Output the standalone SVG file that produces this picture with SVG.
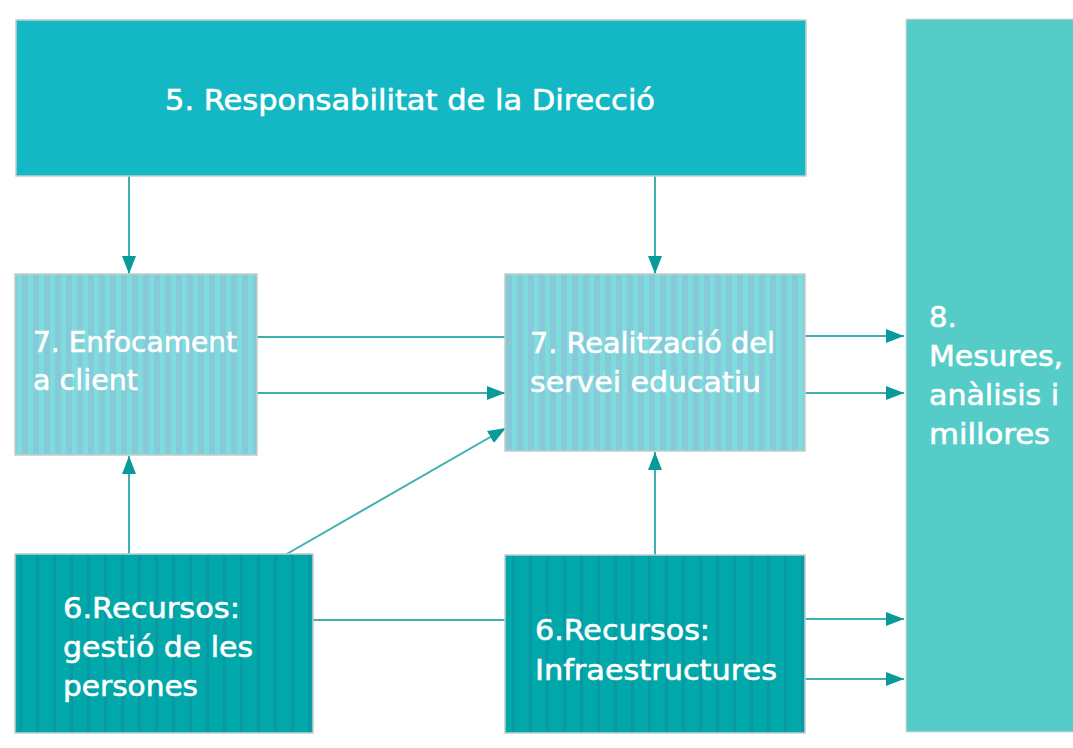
<svg xmlns="http://www.w3.org/2000/svg" width="1073" height="748" viewBox="0 0 1073 748">
<style>
text{font-family:"DejaVu Sans",Verdana,sans-serif;font-size:29px;fill:#ffffff;stroke:#ffffff;stroke-width:0.6}
.box{stroke:#c4cccc;stroke-width:1.5}
.ln{stroke:#3fb0b0;stroke-width:2;fill:none}
.ar{stroke:#3fb0b0;stroke-width:2;fill:none;marker-end:url(#ah)}
</style>
<defs>
<pattern id="lt" patternUnits="userSpaceOnUse" width="11" height="10" x="15" y="0">
<rect width="11" height="10" fill="#86c9d9"/>
<rect x="2" width="5" height="10" fill="#7fdcdc"/>
</pattern>
<pattern id="dk" patternUnits="userSpaceOnUse" width="17" height="10" x="15" y="0">
<rect width="17" height="10" fill="#00a8aa"/>
<rect x="4" width="3" height="10" fill="#0a97a6"/>
</pattern>
<marker id="ah" markerWidth="18" markerHeight="14" refX="18" refY="7" orient="auto" markerUnits="userSpaceOnUse">
<path d="M0,0 L18,7 L0,14 Z" fill="#0a9a9c"/>
</marker>
</defs>
<rect width="1073" height="748" fill="#ffffff"/>
<g id="connectors">
<line class="ar" x1="129" y1="176" x2="129" y2="274"/>
<line class="ar" x1="655" y1="176" x2="655" y2="274"/>
<line class="ln" x1="257" y1="337" x2="505" y2="337"/>
<line class="ar" x1="257" y1="393" x2="505" y2="393"/>
<line class="ar" x1="285" y1="555" x2="506" y2="428"/>
<line class="ar" x1="129" y1="554" x2="129" y2="456"/>
<line class="ln" x1="313" y1="620" x2="505" y2="620"/>
<line class="ar" x1="655" y1="555" x2="655" y2="452"/>
<line class="ar" x1="805" y1="336" x2="904" y2="336"/>
<line class="ar" x1="805" y1="393" x2="904" y2="393"/>
<line class="ar" x1="805" y1="619" x2="904" y2="619"/>
<line class="ar" x1="805" y1="679" x2="904" y2="679"/>
</g>
<g id="n5">
<rect class="box" x="16" y="20" width="790" height="156" fill="#13b8c4"/>
<text x="165" y="110" textLength="490" lengthAdjust="spacingAndGlyphs">5. Responsabilitat de la Direcció</text>
</g>
<g id="n8">
<rect x="906" y="19" width="170" height="713" fill="#56ccc9" stroke="#e6d6dc" stroke-width="1"/>
<text x="929" y="327">8.</text>
<text x="929" y="366" textLength="134" lengthAdjust="spacingAndGlyphs">Mesures,</text>
<text x="929" y="405" textLength="130" lengthAdjust="spacingAndGlyphs">anàlisis i</text>
<text x="929" y="444" textLength="121" lengthAdjust="spacingAndGlyphs">millores</text>
</g>
<g id="n7a">
<rect class="box" x="15" y="274" width="242" height="181" fill="url(#lt)"/>
<text x="33" y="352" textLength="204" lengthAdjust="spacingAndGlyphs">7. Enfocament</text>
<text x="33" y="390" textLength="105" lengthAdjust="spacingAndGlyphs">a client</text>
</g>
<g id="n7b">
<rect class="box" x="505" y="274" width="300" height="177" fill="url(#lt)"/>
<text x="530" y="353" textLength="245" lengthAdjust="spacingAndGlyphs">7. Realització del</text>
<text x="530" y="392" textLength="231" lengthAdjust="spacingAndGlyphs">servei educatiu</text>
</g>
<g id="n6a">
<rect class="box" x="15" y="554" width="298" height="179" fill="url(#dk)"/>
<text x="63" y="618" textLength="177" lengthAdjust="spacingAndGlyphs">6.Recursos:</text>
<text x="63" y="657" textLength="190" lengthAdjust="spacingAndGlyphs">gestió de les</text>
<text x="63" y="696" textLength="135" lengthAdjust="spacingAndGlyphs">persones</text>
</g>
<g id="n6b">
<rect class="box" x="505" y="555" width="300" height="178" fill="url(#dk)"/>
<text x="535" y="640" textLength="175" lengthAdjust="spacingAndGlyphs">6.Recursos:</text>
<text x="535" y="680" textLength="242" lengthAdjust="spacingAndGlyphs">Infraestructures</text>
</g>
</svg>
